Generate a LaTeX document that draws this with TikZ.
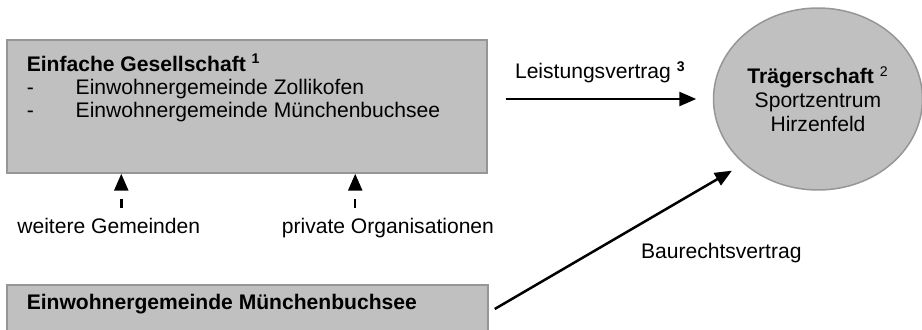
\documentclass[tikz,border=0pt]{standalone}
\usepackage{fontspec}
\setmainfont{Liberation Sans}
\usetikzlibrary{arrows.meta,shapes.geometric}

\definecolor{kastengrau}{HTML}{C0C0C0}
\definecolor{randgrau}{HTML}{969696}

\begin{document}
\begin{tikzpicture}[
        x=0.02cm, y=-0.02cm, % eine Einheit = ein Pixel, y nach unten
        font=\fontsize{12}{13}\selectfont,
        kasten/.style={rectangle, draw=randgrau, fill=kastengrau, line width=0.03cm}, % graue Kaesten
        oval/.style={ellipse, draw=randgrau, fill=kastengrau, line width=0.03cm, inner sep=0pt,
                align=center, font=\fontsize{12}{13.6}\selectfont},
        txt/.style={inner sep=0pt}, % Beschriftungen
        pfeil/.style={-{Triangle[length=0.34cm, width=0.28cm]}, line width=0.05cm},
        strichpfeil/.style={pfeil, dash pattern=on 0.18cm off 0.22cm},
    ]
    \useasboundingbox (0,0) rectangle (922,329);

    \node[kasten, minimum width=9.6cm, minimum height=2.66cm] (gesellschaft) at (247,106.5) {};
    \node[kasten, minimum width=9.62cm, minimum height=1.1cm] (buchsee) at (247.5,312.5) {};
    \node[oval, minimum width=4.18cm, minimum height=3.64cm] (traeger) at (818,99)
        {\textbf{Trägerschaft} \textsuperscript{2}\\Sportzentrum\\Hirzenfeld};

    \node[txt, anchor=base west, align=left] (einfach) at (26.4,117) % base = letzte Zeile
        {\textbf{Einfache Gesellschaft \textsuperscript{1}}\\
         \makebox[0.98cm][l]{-}Einwohnergemeinde Zollikofen\\
         \makebox[0.98cm][l]{-}Einwohnergemeinde Münchenbuchsee};
    \node[txt, anchor=base west] (buchseetext) at (26.4,309) {\textbf{Einwohnergemeinde Münchenbuchsee}};
    \node[txt, anchor=base west] (gemeinden) at (17,233) {weitere Gemeinden};
    \node[txt, anchor=base west] (organisationen) at (281.5,233) {private Organisationen};

    % Vertraege
    \draw[pfeil, shorten <=0.36cm, shorten >=0.33cm] (gesellschaft.east |- traeger.west) -- (traeger.west)
        node[txt, midway, above=0.29cm] (leistung) {Leistungsvertrag \textbf{\textsuperscript{3}}};
    \draw[pfeil, shorten <=0.14cm, shorten >=0.27cm] (buchsee.east) -- (traeger.south west)
        node[txt, pos=0.5926, anchor=north west, yshift=-0.35cm] (baurecht) {Baurechtsvertrag};

    % weitere Beteiligte
    \coordinate (gem) at ([xshift=2.3cm]gesellschaft.south west);
    \coordinate (org) at ([xshift=6.98cm]gesellschaft.south west);
    \draw[strichpfeil, shorten <=0.19cm] (gemeinden.north -| gem) -- (gem);
    \draw[strichpfeil, shorten <=0.19cm] (organisationen.north -| org) -- (org);
\end{tikzpicture}
\end{document}
